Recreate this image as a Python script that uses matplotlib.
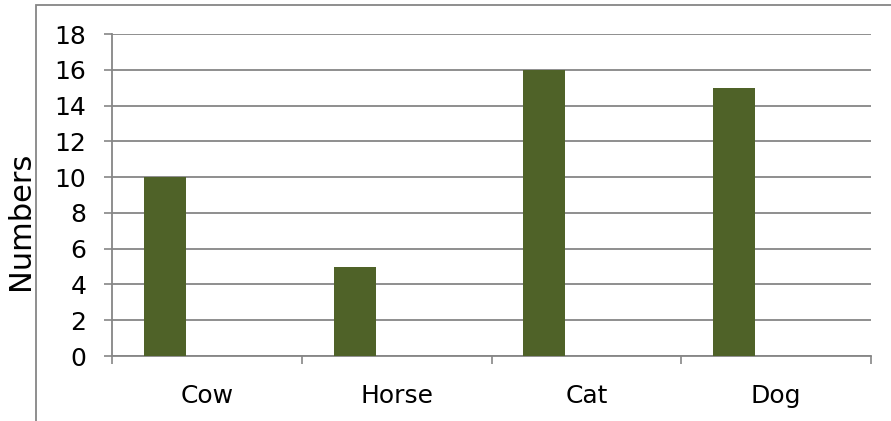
import numpy as np
import matplotlib
matplotlib.use('Agg')
from matplotlib import pyplot as plt
from matplotlib.patches import Rectangle

# data
animals = ['Cow', 'Horse', 'Cat', 'Dog']
numbers = [10, 5, 16, 15]
yticks = [0, 2, 4, 6, 8, 10, 12, 14, 16, 18]

grey = '#868686'
bar_color = '#4F6228'

plt.rcParams['font.family'] = ['DejaVu Sans']

fig = plt.figure(figsize=(8.91, 4.21), dpi=100)
W, H = 891, 421

# chart border (runs off the right and bottom edges)
fig.patches.append(Rectangle((36 / W, -0.05), 1.0, (421 - 5) / H + 0.05,
                             transform=fig.transFigure, fill=False,
                             edgecolor=grey, linewidth=1.3))

ax = fig.add_axes([112 / W, (H - 356) / H, (871 - 112) / W, (356 - 34) / H])

x = np.arange(len(animals))
ax.bar(x - 0.221, numbers, width=0.221, color=bar_color, zorder=3)

ax.set_xlim(-0.5, len(animals) - 0.5)
ax.set_ylim(0, 18)
ax.set_yticks(yticks)
ax.yaxis.grid(True, color=grey, linewidth=1.3)
ax.set_axisbelow(True)

ax.set_xticks(x)
ax.set_xticklabels(animals)
ax.set_xticks(np.arange(len(animals) + 1) - 0.5, minor=True)
ax.tick_params(axis='x', which='major', length=0, pad=20, labelsize=18)
ax.tick_params(axis='x', which='minor', length=6, width=1.2, color=grey)
ax.tick_params(axis='y', length=6, width=1.2, color=grey, pad=12.5, labelsize=18)

for side in ['top', 'right']:
    ax.spines[side].set_visible(False)
for side in ['left', 'bottom']:
    ax.spines[side].set_color(grey)
    ax.spines[side].set_linewidth(1.3)

fig.text(21 / W, 1 - 221 / H, 'Numbers', rotation=90, fontsize=22,
         ha='center', va='center')

fig.savefig('out.png', dpi=100)
